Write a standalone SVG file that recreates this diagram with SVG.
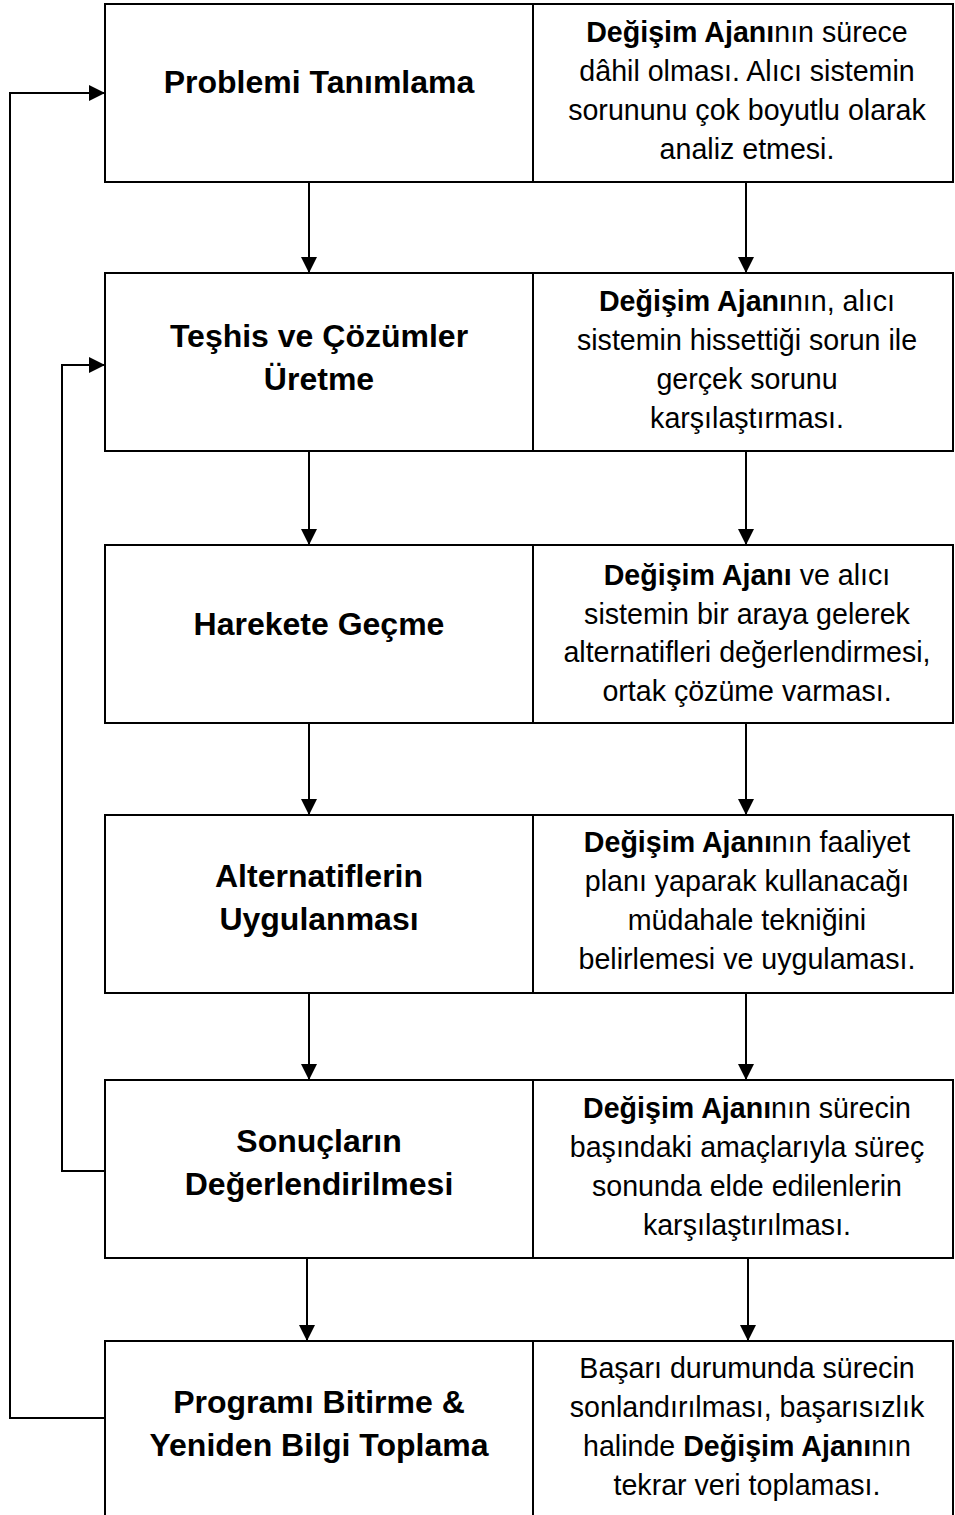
<svg xmlns="http://www.w3.org/2000/svg" width="955" height="1515" viewBox="0 0 955 1515">
  <style>
    .box { fill: #ffffff; stroke: #000000; stroke-width: 2; }
    .wire { fill: none; stroke: #000000; stroke-width: 2; }
    .step { font-family: "Liberation Sans", Arial, sans-serif; font-size: 32px; font-weight: bold; text-anchor: middle; fill: #000000; }
    .note { font-family: "Liberation Sans", Arial, sans-serif; font-size: 28.6px; text-anchor: middle; fill: #000000; }
    .note tspan.b { font-weight: bold; }
  </style>
  <defs>
    <marker id="arrow" markerWidth="16" markerHeight="16" refX="15" refY="8" orient="auto" markerUnits="userSpaceOnUse">
      <path d="M0,0 L16,8 L0,16 Z" fill="#000000"/>
    </marker>
  </defs>
  <rect width="955" height="1515" fill="#ffffff"/>

  <!-- connectors -->
  <g id="connectors">
    <path class="wire" d="M309,182 V272" marker-end="url(#arrow)"/>
    <path class="wire" d="M746,182 V272" marker-end="url(#arrow)"/>
    <path class="wire" d="M309,451 V544" marker-end="url(#arrow)"/>
    <path class="wire" d="M746,451 V544" marker-end="url(#arrow)"/>
    <path class="wire" d="M309,723 V814" marker-end="url(#arrow)"/>
    <path class="wire" d="M746,723 V814" marker-end="url(#arrow)"/>
    <path class="wire" d="M309,993 V1079" marker-end="url(#arrow)"/>
    <path class="wire" d="M746,993 V1079" marker-end="url(#arrow)"/>
    <path class="wire" d="M307,1258 V1340" marker-end="url(#arrow)"/>
    <path class="wire" d="M748,1258 V1340" marker-end="url(#arrow)"/>
    <!-- feedback loops -->
    <path class="wire" d="M105,1418 H10 V93 H104" marker-end="url(#arrow)"/>
    <path class="wire" d="M105,1171 H62 V365 H104" marker-end="url(#arrow)"/>
  </g>

  <!-- step 1 -->
  <g id="step1">
    <rect class="box" x="105" y="4" width="428" height="178"/>
    <rect class="box" x="533" y="4" width="420" height="178"/>
    <text class="step" x="319" y="93">Problemi Tanımlama</text>
    <text class="note" x="747" y="42"><tspan class="b">Değişim Ajanı</tspan>nın sürece</text>
    <text class="note" x="747" y="81">dâhil olması. Alıcı sistemin</text>
    <text class="note" x="747" y="120">sorununu çok boyutlu olarak</text>
    <text class="note" x="747" y="159">analiz etmesi.</text>
  </g>

  <!-- step 2 -->
  <g id="step2">
    <rect class="box" x="105" y="273" width="428" height="178"/>
    <rect class="box" x="533" y="273" width="420" height="178"/>
    <text class="step" x="319" y="347">Teşhis ve Çözümler</text>
    <text class="step" x="319" y="390">Üretme</text>
    <text class="note" x="747" y="311"><tspan class="b">Değişim Ajanı</tspan>nın, alıcı</text>
    <text class="note" x="747" y="350">sistemin hissettiği sorun ile</text>
    <text class="note" x="747" y="389">gerçek sorunu</text>
    <text class="note" x="747" y="428">karşılaştırması.</text>
  </g>

  <!-- step 3 -->
  <g id="step3">
    <rect class="box" x="105" y="545" width="428" height="178"/>
    <rect class="box" x="533" y="545" width="420" height="178"/>
    <text class="step" x="319" y="635">Harekete Geçme</text>
    <text class="note" x="747" y="585"><tspan class="b">Değişim Ajanı</tspan> ve alıcı</text>
    <text class="note" x="747" y="624">sistemin bir araya gelerek</text>
    <text class="note" x="747" y="662">alternatifleri değerlendirmesi,</text>
    <text class="note" x="747" y="701">ortak çözüme varması.</text>
  </g>

  <!-- step 4 -->
  <g id="step4">
    <rect class="box" x="105" y="815" width="428" height="178"/>
    <rect class="box" x="533" y="815" width="420" height="178"/>
    <text class="step" x="319" y="887">Alternatiflerin</text>
    <text class="step" x="319" y="930">Uygulanması</text>
    <text class="note" x="747" y="852"><tspan class="b">Değişim Ajanı</tspan>nın faaliyet</text>
    <text class="note" x="747" y="891">planı yaparak kullanacağı</text>
    <text class="note" x="747" y="930">müdahale tekniğini</text>
    <text class="note" x="747" y="969">belirlemesi ve uygulaması.</text>
  </g>

  <!-- step 5 -->
  <g id="step5">
    <rect class="box" x="105" y="1080" width="428" height="178"/>
    <rect class="box" x="533" y="1080" width="420" height="178"/>
    <text class="step" x="319" y="1152">Sonuçların</text>
    <text class="step" x="319" y="1195">Değerlendirilmesi</text>
    <text class="note" x="747" y="1118"><tspan class="b">Değişim Ajanı</tspan>nın sürecin</text>
    <text class="note" x="747" y="1157">başındaki amaçlarıyla süreç</text>
    <text class="note" x="747" y="1196">sonunda elde edilenlerin</text>
    <text class="note" x="747" y="1235">karşılaştırılması.</text>
  </g>

  <!-- step 6 -->
  <g id="step6">
    <rect class="box" x="105" y="1341" width="428" height="190"/>
    <rect class="box" x="533" y="1341" width="420" height="190"/>
    <text class="step" x="319" y="1413">Programı Bitirme &amp;</text>
    <text class="step" x="319" y="1456">Yeniden Bilgi Toplama</text>
    <text class="note" x="747" y="1378">Başarı durumunda sürecin</text>
    <text class="note" x="747" y="1417">sonlandırılması, başarısızlık</text>
    <text class="note" x="747" y="1456">halinde <tspan class="b">Değişim Ajanı</tspan>nın</text>
    <text class="note" x="747" y="1495">tekrar veri toplaması.</text>
  </g>
</svg>
